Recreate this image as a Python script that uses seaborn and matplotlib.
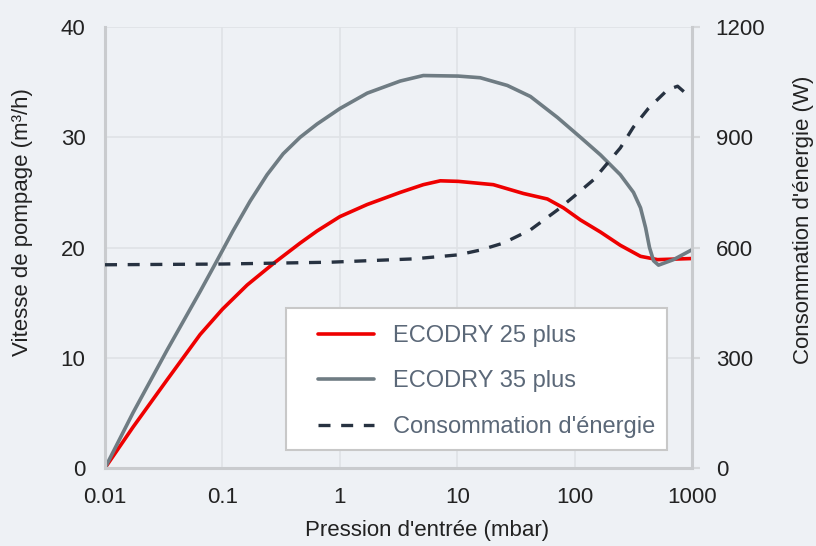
import numpy as np
import pandas as pd
import matplotlib.pyplot as plt
import seaborn as sns
from matplotlib.patches import Rectangle

# ECODRY 25 plus - pumping speed (m3/h) vs inlet pressure (mbar)
p25 = [0.01, 0.0173, 0.0338, 0.0645, 0.1, 0.1625, 0.2758, 0.459, 0.64, 1.0, 1.71,
       3.27, 5.14, 7.18, 10.2, 20.3, 36.6, 58.6, 80.2, 112, 166, 245, 364, 508, 1000]
s25 = [0, 3.7, 8.0, 12.1, 14.4, 16.6, 18.6, 20.4, 21.5, 22.8, 23.9,
       25.0, 25.7, 26.05, 26.0, 25.7, 24.9, 24.4, 23.6, 22.5, 21.4, 20.2, 19.2, 18.9, 19.0]

# ECODRY 35 plus
p35 = [0.01, 0.0173, 0.0338, 0.0645, 0.0867, 0.123, 0.172, 0.24, 0.329, 0.459, 0.64,
       1.0, 1.71, 3.27, 5.14, 10.2, 15.7, 26.7, 42, 71.3, 112, 166, 245, 317, 364,
       402, 434, 470, 518, 695, 1000]
s35 = [0, 5.0, 10.7, 16.0, 18.5, 21.5, 24.2, 26.6, 28.5, 30.0, 31.2,
       32.6, 34.0, 35.1, 35.6, 35.55, 35.4, 34.7, 33.7, 31.8, 30.0, 28.4, 26.6, 25.0, 23.6,
       21.8, 20.0, 18.8, 18.4, 18.9, 19.8]

# Power consumption (W)
pw = [0.01, 0.1, 0.83, 4.23, 10.2, 15.7, 24.7, 42, 71.3, 97.7, 144.5,
      245, 317, 426, 618, 753, 881]
watts = [553, 555, 560, 569, 580, 593, 612, 648, 702, 738, 784,
         871, 928, 979, 1029, 1039, 1020]

xticks = [0.01, 0.1, 1, 10, 100, 1000]
xticklabels = ['0.01', '0.1', '1', '10', '100', '1000']

df25 = pd.DataFrame({'p': p25, 'v': s25})
df35 = pd.DataFrame({'p': p35, 'v': s35})
dfw = pd.DataFrame({'p': pw, 'w': watts})

sns.set_theme(style='white')
plt.rcParams['font.family'] = ['Liberation Sans', 'DejaVu Sans']

bg = '#eef1f5'
grid_c = '#dfe2e6'
spine_c = '#c9cbce'
txt = '#222222'

fig = plt.figure(figsize=(8.16, 5.46), dpi=100, facecolor=bg)
ax = fig.add_axes([0.1287, 0.1429, 0.7194, 0.8076])
ax.set_facecolor(bg)
ax2 = ax.twinx()

sns.lineplot(data=df25, x='p', y='v', ax=ax, color='#ee0000', lw=2.6,
             sort=False, estimator=None, label='ECODRY 25 plus')
sns.lineplot(data=df35, x='p', y='v', ax=ax, color='#6f7c83', lw=2.6,
             sort=False, estimator=None, label='ECODRY 35 plus')
sns.lineplot(data=dfw, x='p', y='w', ax=ax2, color='#273241', lw=2.4,
             sort=False, estimator=None, label="Consommation d'énergie")
ax2.lines[0].set_dashes((3.6, 3.2))

ax.set_xscale('log')
ax.set_xlim(0.01, 1000)
ax.set_ylim(0, 40)
ax2.set_ylim(0, 1200)
ax.set_xticks(xticks)
ax.set_xticklabels(xticklabels)
ax.set_yticks([0, 10, 20, 30, 40])
ax2.set_yticks([0, 300, 600, 900, 1200])
ax.xaxis.set_minor_locator(plt.NullLocator())

ax.grid(True, color=grid_c, lw=1.2)
ax.set_axisbelow(True)
ax.spines['top'].set_visible(False)
ax2.spines['top'].set_visible(False)
for a in (ax, ax2):
    for s in ['left', 'right', 'bottom']:
        a.spines[s].set_color(spine_c)
        a.spines[s].set_linewidth(2.2)
ax.spines['right'].set_visible(False)
ax2.spines['left'].set_visible(False)
ax2.spines['bottom'].set_visible(False)

ax.tick_params(axis='x', length=0, labelsize=16, colors=txt, pad=14)
ax.tick_params(axis='y', length=0, labelsize=16, colors=txt, pad=14)
ax2.tick_params(axis='y', length=6, width=1.5, color='#d6d8db', labelsize=16,
                labelcolor=txt, pad=11)

ax.set_xlabel("Pression d'entrée (mbar)", fontsize=16, color=txt)
ax.set_ylabel('Vitesse de pompage (m³/h)', fontsize=16, color=txt)
ax2.set_ylabel("Consommation d'énergie (W)", fontsize=16, color=txt)
ax.xaxis.set_label_coords(0.549, -0.118)
ax.yaxis.set_label_coords(-0.123, 0.558)
ax2.yaxis.set_label_coords(1.172, 0.562)

h1, l1 = ax.get_legend_handles_labels()
h2, l2 = ax2.get_legend_handles_labels()
ax.get_legend().remove()
ax2.get_legend().remove()

box = Rectangle((0.308, 0.041), 0.649, 0.322, transform=ax2.transAxes,
                facecolor='white', edgecolor='#c8c8c8', lw=1.5, zorder=4)
ax2.add_patch(box)
leg = ax2.legend(h1 + h2, l1 + l2, loc='lower left', bbox_to_anchor=(0.362, 0.068),
                 fontsize=17, frameon=False, handlelength=2.4,
                 handletextpad=0.8, labelspacing=1.0, borderpad=0,
                 borderaxespad=0)
leg.set_zorder(5)
for t in leg.get_texts():
    t.set_color('#5b6878')

plt.savefig('out.png', dpi=100, facecolor=bg)
